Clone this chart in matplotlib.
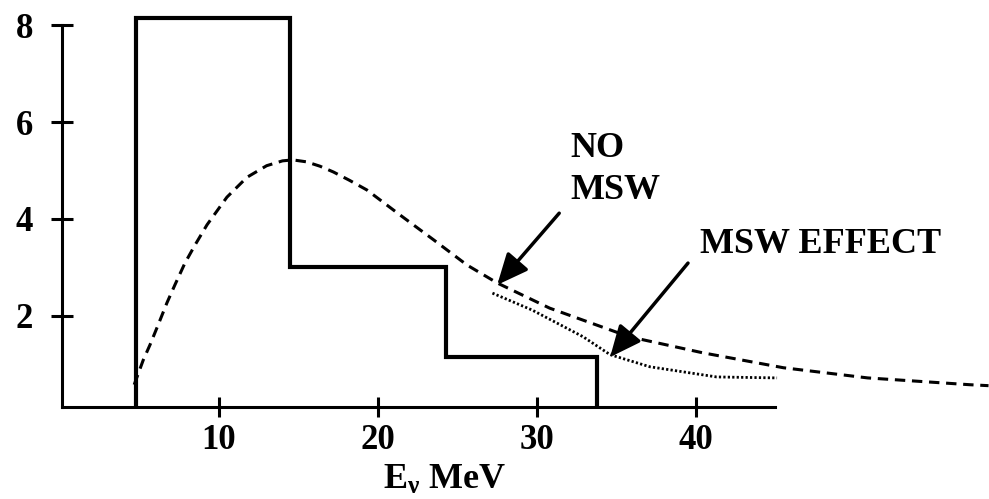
import matplotlib
matplotlib.use("Agg")
import matplotlib.pyplot as plt

plt.rcParams["font.family"] = ["Liberation Serif", "DejaVu Serif"]
plt.rcParams["font.weight"] = "bold"
plt.rcParams["mathtext.fontset"] = "custom"
plt.rcParams["mathtext.rm"] = "Liberation Serif:bold"
plt.rcParams["mathtext.it"] = "Liberation Serif:bold"
plt.rcParams["mathtext.bf"] = "Liberation Serif:bold"

# histogram (measured events)
edges = [4.8, 14.5, 24.3, 33.8]
counts = [8.15, 3.0, 1.15]

# NO MSW curve
no_msw_e = [4.67, 5.24, 5.66, 6.17, 6.73, 7.23, 7.86, 8.49, 9.25, 10.5, 11.76, 13.0, 14.0,
            14.65, 15.5, 16.35, 17.2, 18.2, 19.3, 21.4, 23.5, 25.6, 27.5, 30.8,
            35.8, 40.4, 45.5, 50.8, 57.2, 58.4]
no_msw_n = [0.58, 1.09, 1.40, 1.81, 2.27, 2.64, 3.09, 3.46, 3.88, 4.45, 4.86, 5.10, 5.20,
            5.22, 5.18, 5.09, 4.97, 4.80, 4.60, 4.08, 3.57, 3.05, 2.68, 2.16,
            1.57, 1.24, 0.93, 0.72, 0.58, 0.56]

# MSW EFFECT curve
msw_e = [27.2, 29.7, 32.9, 34.6, 37.1, 41.3, 45.1]
msw_n = [2.47, 2.12, 1.57, 1.20, 0.95, 0.74, 0.72]

xticks = [10, 20, 30, 40]
yticks = [2, 4, 6, 8]

# label / arrow anchors
no_msw_text = (32.1, 4.25)
no_msw_tip = (27.5, 2.64)
no_msw_tail = (31.4, 4.12)
msw_text = (40.25, 3.3)
msw_tip = (34.6, 1.15)
msw_tail = (39.5, 3.09)

fig = plt.figure(figsize=(9.89, 4.99), dpi=100)
ax = fig.add_axes([0.0627, 0.1844, 0.9373, 0.8156])

ax.stairs(counts, edges, baseline=0, color="black", lw=3)
ax.plot(no_msw_e, no_msw_n, color="black", lw=2.2, dashes=(3.4, 2.2))
ax.plot(msw_e, msw_n, color="black", lw=2.0, dashes=(0.8, 0.8))

arrow = dict(arrowstyle="-|>,head_length=1.9,head_width=0.85", color="black", lw=2.5,
             shrinkA=0, shrinkB=0)
ax.annotate("", xy=no_msw_tip, xytext=no_msw_tail, arrowprops=arrow)
ax.annotate("", xy=msw_tip, xytext=msw_tail, arrowprops=arrow)
ax.text(no_msw_text[0], no_msw_text[1], "NO\nMSW", fontsize=26, fontweight="bold",
        ha="left", va="bottom", linespacing=1.35)
ax.text(msw_text[0], msw_text[1], "MSW EFFECT", fontsize=26, fontweight="bold",
        ha="left", va="baseline")

ax.set_xlim(0.13, 58.43)
ax.set_ylim(0.12, 8.52)
ax.set_xticks(xticks)
ax.set_yticks(yticks)
ax.tick_params(axis="both", direction="inout", width=2.2, labelsize=25, colors="black")
ax.tick_params(axis="y", length=16, pad=13)
ax.tick_params(axis="x", length=14, pad=5)
for lab in ax.get_xticklabels() + ax.get_yticklabels():
    lab.set_fontweight("bold")

for s in ["top", "right"]:
    ax.spines[s].set_visible(False)
ax.spines["left"].set_linewidth(2.2)
ax.spines["bottom"].set_linewidth(2.2)
ax.spines["left"].set_bounds(0.12, 8)
ax.spines["bottom"].set_bounds(0.13, 45)

ax.set_xlabel(r"E$_\nu$ MeV", fontsize=26, fontweight="bold")
ax.xaxis.set_label_coords(0.413, -0.14)

fig.savefig("out.png", dpi=100)
